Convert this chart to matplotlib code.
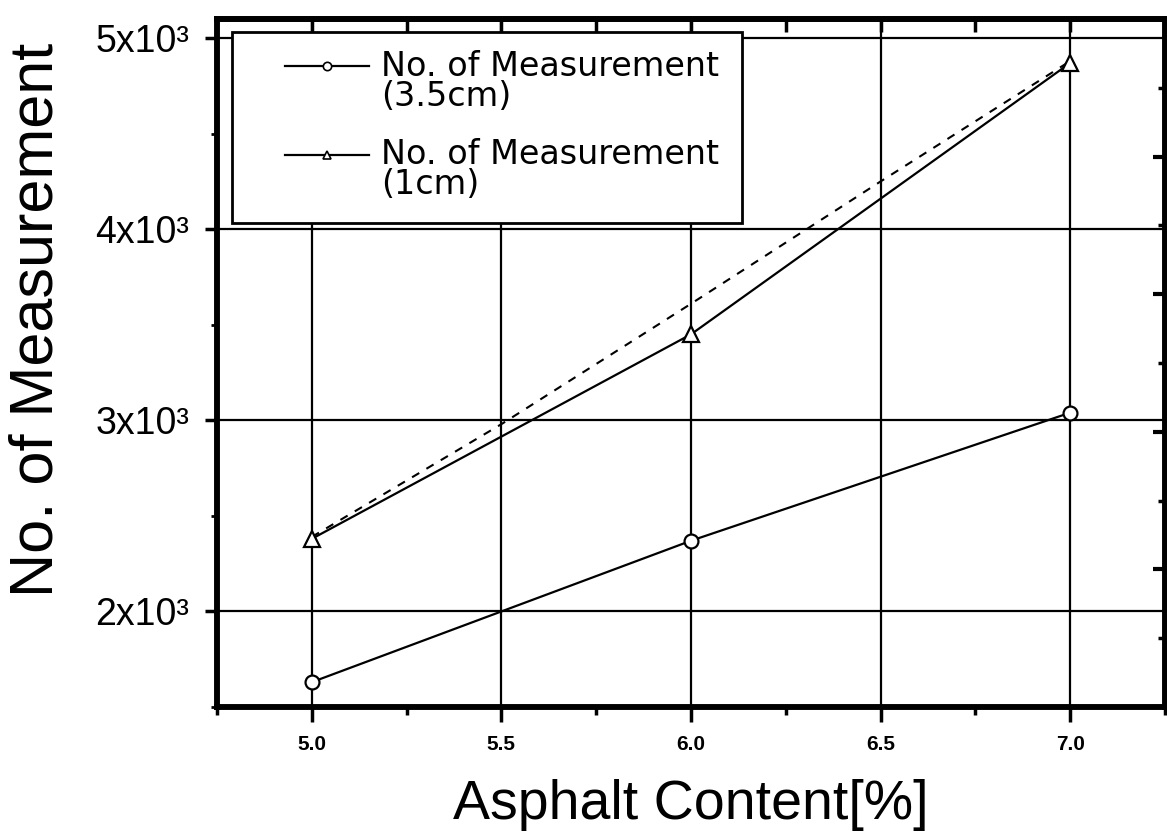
import matplotlib
matplotlib.use("Agg")
import matplotlib.pyplot as plt
from matplotlib.ticker import MultipleLocator, NullFormatter
from matplotlib.lines import Line2D
from matplotlib.patches import Rectangle

# values
asphalt = [5.0, 6.0, 7.0]
meas_35cm = [1630, 2370, 3040]
meas_1cm = [2380, 3450, 4870]
dash_x = [5.0, 5.5, 6.0, 6.5, 7.0]
dash_y = [2390, 2980, 3610, 4250, 4880]

x_ticks = [5.0, 5.5, 6.0, 6.5, 7.0]
x_tick_labels = ["5.0", "5.5", "6.0", "6.5", "7.0"]
y_ticks = [2000, 3000, 4000, 5000]
y_tick_labels = ["2x10³", "3x10³", "4x10³", "5x10³"]
legend_rows = [("No. of Measurement", "(3.5cm)", "o"),
               ("No. of Measurement", "(1cm)", "^")]

W, H = 1167, 836
SANS = ["Liberation Sans", "DejaVu Sans"]


def fx(x):
    return x / W


def fy(y):
    return 1 - y / H


fig = plt.figure(figsize=(W / 100, H / 100), dpi=100)
left, right, top, bottom = 217, 1165, 19, 707
ax = fig.add_axes([fx(left), fy(bottom), (right - left) / W, (bottom - top) / H])

ax.plot(dash_x, dash_y, color="black", lw=1.5, ls=(0, (4, 4)), zorder=3)
ax.plot(asphalt, meas_35cm, color="black", lw=1.6, marker="o", ms=10,
        mfc="white", mec="black", mew=1.6, zorder=4)
ax.plot(asphalt, meas_1cm, color="black", lw=1.6, marker="^", ms=11,
        mfc="white", mec="black", mew=1.6, zorder=4)

ax.set_xlim(4.75, 7.25)
ax.set_ylim(1500, 5100)
ax.set_xticks(x_ticks)
ax.set_xticklabels(x_tick_labels, fontsize=15, fontweight="bold", family=SANS)
ax.xaxis.set_minor_locator(MultipleLocator(0.25))
ax.set_yticks(y_ticks)
ax.set_yticklabels(y_tick_labels, fontsize=27, family=SANS)
ax.yaxis.set_minor_locator(MultipleLocator(500))
ax.grid(which="major", color="black", lw=1.6)
ax.set_axisbelow(True)

ax.tick_params(axis="x", which="major", direction="out", length=11, width=2.5, pad=9)
ax.tick_params(axis="x", which="minor", direction="out", length=6, width=2.5)
ax.tick_params(axis="y", which="major", direction="out", length=9, width=2.5, pad=11)
ax.tick_params(axis="y", which="minor", direction="out", length=4, width=2)
for s in ax.spines.values():
    s.set_linewidth(4)

# top axis: ticks pointing inward
sec = ax.secondary_xaxis("top")
sec.set_xticks(x_ticks)
sec.xaxis.set_minor_locator(MultipleLocator(0.25))
sec.xaxis.set_major_formatter(NullFormatter())
sec.tick_params(which="both", direction="in", length=9, width=2.5)
sec.spines["top"].set_linewidth(4)

# right axis: ticks pointing inward
rax = ax.twinx()
rax.set_ylim(0, 5)
rax.yaxis.set_major_locator(MultipleLocator(1))
rax.yaxis.set_minor_locator(MultipleLocator(0.5))
rax.yaxis.set_major_formatter(NullFormatter())
rax.tick_params(which="major", direction="in", length=9, width=3)
rax.tick_params(which="minor", direction="in", length=5, width=2.5)
for s in rax.spines.values():
    s.set_linewidth(4)

# legend box, drawn by hand so the handle sits on the first text line
fig.add_artist(Rectangle((fx(232), fy(223)), (742 - 232) / W, (223 - 32) / H,
                         transform=fig.transFigure, fc="white", ec="black",
                         lw=2, zorder=5))
row_y = [66, 155]
for (line1, line2, mk), y in zip(legend_rows, row_y):
    fig.add_artist(Line2D([fx(285), fx(369)], [fy(y), fy(y)], color="black",
                          lw=1.6, transform=fig.transFigure, zorder=6))
    fig.add_artist(Line2D([fx(327)], [fy(y)], marker=mk, ms=6, mfc="white",
                          mec="black", mew=1.2, color="black",
                          transform=fig.transFigure, zorder=7))
    fig.text(fx(381), fy(y), line1, va="center", ha="left", fontsize=24,
             family=["DejaVu Sans"], zorder=7)
    fig.text(fx(381), fy(y + 30), line2, va="center", ha="left", fontsize=24,
             family=["DejaVu Sans"], zorder=7)

fig.text(fx(37), fy(320), "No. of Measurement", rotation=90, ha="center",
         va="center", fontsize=44, family=SANS)
fig.text(fx(691), fy(805), "Asphalt Content[%]", ha="center", va="center",
         fontsize=40, family=SANS)

fig.savefig("out.png", dpi=100)
